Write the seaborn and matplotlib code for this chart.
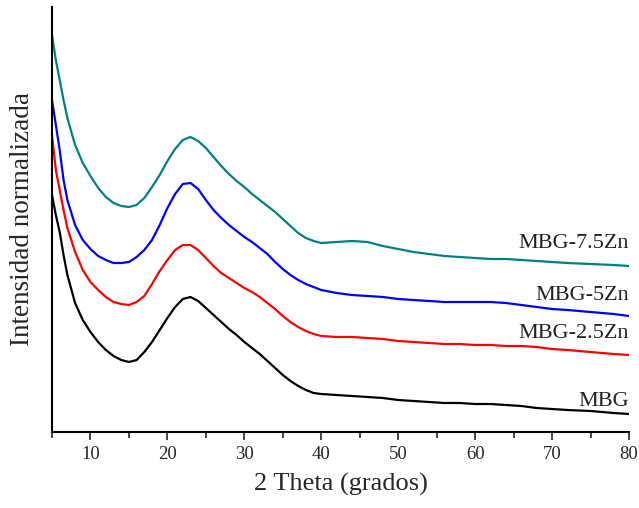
import numpy as np
import pandas as pd
import matplotlib
matplotlib.use("Agg")
import matplotlib.pyplot as plt
import seaborn as sns
from matplotlib.ticker import MultipleLocator

# 2 Theta positions (degrees)
two_theta = [5, 5.5, 6, 6.5, 7, 8, 9, 10, 11, 12, 13, 14, 15, 16, 17, 18, 19, 20,
             21, 22, 23, 24, 25, 26, 27, 28, 29, 30, 31, 32, 33, 34, 35, 36, 37,
             38, 39, 40, 42, 44, 46, 48, 50, 52, 54, 56, 58, 60, 62, 64, 66, 68,
             70, 72, 75, 78, 80]

# normalized intensity (arbitrary units, stacked)
mbg_75zn = [397, 372, 352, 332, 314, 287, 269, 256, 244, 235, 229, 226, 225, 227,
            234, 245, 257, 271, 283, 292, 295, 291, 284, 275, 266, 258, 251, 245,
            238, 232, 226, 220, 213, 206, 199, 194, 191, 189, 190, 191, 190, 186,
            183, 180, 178, 176, 175, 174, 173, 173, 172, 171, 170, 169, 168, 167, 166]
mbg_5zn = [332, 307, 282, 252, 232, 207, 192, 183, 176, 172, 169, 169, 170, 175,
           182, 192, 207, 224, 238, 248, 249, 243, 232, 222, 214, 207, 201, 195,
           190, 184, 178, 170, 163, 157, 152, 148, 145, 142, 139, 137, 136, 135,
           133, 132, 131, 130, 130, 130, 130, 129, 127, 125, 123, 122, 120, 118, 116]
mbg_25zn = [297, 262, 242, 222, 204, 180, 162, 150, 142, 135, 130, 128, 127, 130,
            136, 148, 161, 172, 182, 187, 187, 182, 174, 166, 159, 154, 149, 144,
            140, 135, 129, 123, 116, 110, 105, 101, 98, 96, 95, 95, 94, 93, 91, 90,
            89, 88, 88, 87, 87, 86, 86, 85, 83, 82, 80, 78, 77]
mbg = [237, 217, 200, 177, 157, 129, 112, 100, 90, 82, 76, 72, 70, 72, 80, 90, 102,
       114, 125, 133, 135, 131, 124, 117, 110, 103, 97, 90, 84, 78, 71, 64, 57, 51,
       46, 42, 39, 38, 37, 36, 35, 34, 32, 31, 30, 29, 29, 28, 28, 27, 26, 24, 23,
       22, 21, 19, 18]

samples = ["MBG", "MBG-2.5Zn", "MBG-5Zn", "MBG-7.5Zn"]
series = [mbg, mbg_25zn, mbg_5zn, mbg_75zn]
colors = ["#000000", "#ff0000", "#0000ff", "#008080"]
label_y = [31, 99, 137, 189]

df = pd.concat([pd.DataFrame({"theta": two_theta, "intensity": s, "sample": n})
                for n, s in zip(samples, series)], ignore_index=True)

sns.set_style("white")
plt.rcParams["font.family"] = ["Liberation Serif", "DejaVu Serif"]

fig = plt.figure(figsize=(6.39, 5.08), dpi=100)
ax = fig.add_axes([52 / 639, 76 / 508, 577 / 639, 425 / 508])

sns.lineplot(data=df, x="theta", y="intensity", hue="sample", hue_order=samples,
             palette=colors, linewidth=1.6, legend=False, ax=ax)

for name, yv in zip(samples, label_y):
    ax.text(80, yv, name, ha="right", va="center", fontsize=16, color="#222222")

ax.set_xlim(5, 80)
ax.set_ylim(0, 425)
ax.set_xticks([10, 20, 30, 40, 50, 60, 70, 80])
ax.xaxis.set_minor_locator(MultipleLocator(5))
ax.set_yticks([])
ax.tick_params(axis="x", which="major", direction="out", length=6, width=1.2,
               labelsize=13.5, pad=4, bottom=True)
ax.tick_params(axis="x", which="minor", direction="out", length=4, width=1.2,
               bottom=True)

for side in ["top", "right"]:
    ax.spines[side].set_visible(False)
for side in ["left", "bottom"]:
    ax.spines[side].set_color("black")
    ax.spines[side].set_linewidth(1.5)

ax.set_xlabel("2 Theta (grados)", fontsize=19, labelpad=7)
ax.set_ylabel("Intensidad normalizada", fontsize=19.5, labelpad=12)

fig.savefig("out.png", dpi=100)
